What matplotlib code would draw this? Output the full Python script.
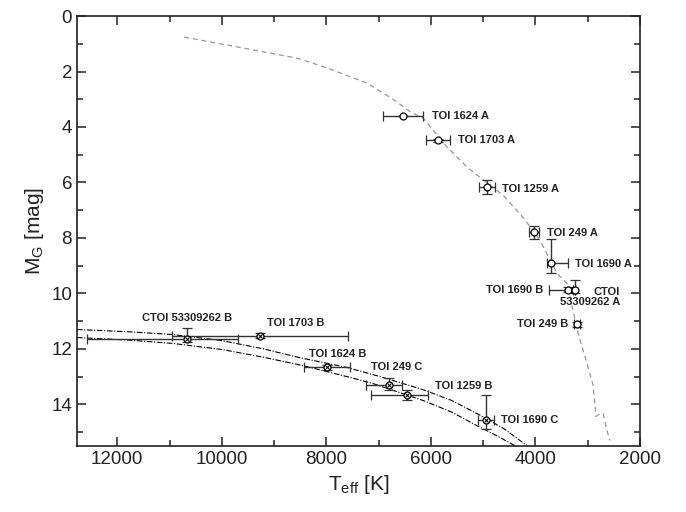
import numpy as np
import matplotlib
matplotlib.use("Agg")
import matplotlib.pyplot as plt
from matplotlib.ticker import MultipleLocator

plt.rcParams['font.family'] = ['Liberation Sans', 'DejaVu Sans']
plt.rcParams['mathtext.fontset'] = 'custom'
plt.rcParams['mathtext.rm'] = 'Liberation Sans'
plt.rcParams['mathtext.it'] = 'Liberation Sans:italic'

# primaries (open circles)
prim_names = ["TOI 1624 A", "TOI 1703 A", "TOI 1259 A", "TOI 249 A", "TOI 1690 A",
              "TOI 1690 B", "CTOI\n53309262 A", "TOI 249 B"]
prim_teff = [6530, 5860, 4925, 4030, 3700, 3377, 3243, 3205]
prim_mg = [3.61, 4.48, 6.17, 7.80, 8.92, 9.86, 9.89, 11.12]
prim_teff_lo = [380, 230, 160, 100, 325, 96, 0, 60]     # towards cooler
prim_teff_hi = [380, 230, 160, 100, 75, 363, 0, 60]     # towards hotter
prim_mg_lo = [0.0, 0.05, 0.25, 0.22, 0.87, 0.1, 0.36, 0.1]  # brighter side
prim_mg_hi = [0.0, 0.05, 0.25, 0.22, 0.36, 0.1, 0.08, 0.1]

# white dwarf companions
wd_names = ["CTOI 53309262 B", "TOI 1703 B", "TOI 1624 B", "TOI 249 C", "TOI 1259 B", "TOI 1690 C"]
wd_teff = [10660, 9266, 7985, 6800, 6455, 4945]
wd_mg = [11.66, 11.52, 12.67, 13.29, 13.65, 14.55]
wd_teff_lo = [975, 1680, 440, 250, 400, 160]
wd_teff_hi = [1910, 1680, 440, 440, 690, 160]
wd_mg_lo = [0.40, 0.08, 0.08, 0.25, 0.18, 0.90]
wd_mg_hi = [0.10, 0.08, 0.08, 0.20, 0.18, 0.33]

# label anchors
prim_lab_x = [5977, 5480, 4639, 3778, 3243, 3855, 2382, 3377]
prim_lab_y = [3.61, 4.48, 6.25, 7.83, 8.95, 9.89, 10.13, 11.12]
prim_lab_ha = ["left", "left", "left", "left", "left", "right", "right", "right"]
wd_lab_x = [10662, 8587, 8329, 7143, 5920, 4658]
wd_lab_y = [10.87, 11.05, 12.18, 12.64, 13.32, 14.55]
wd_lab_ha = ["center", "center", "left", "left", "left", "left"]

# main sequence (gray dashed)
ms_teff = [10719, 9600, 8558, 7985, 7220, 6723, 6398, 6149, 5690, 5308, 4620, 4237, 3912,
           3587, 3396, 3185, 3013, 2899, 2841, 2765, 2707, 2593, 2574]
ms_mg = [0.76, 1.15, 1.52, 1.87, 2.42, 3.0, 3.45, 3.68, 4.72, 5.45, 6.46, 7.26, 8.09,
         9.28, 9.64, 11.44, 12.53, 13.3, 14.44, 14.33, 14.33, 15.23, 15.3]

# white dwarf cooling tracks (dash-dot)
wd1_teff = [12770, 11800, 10948, 10000, 9200, 8500, 7602, 6971, 6149, 5600, 5117, 4600, 4161]
wd1_mg = [11.30, 11.38, 11.48, 11.70, 12.00, 12.32, 12.67, 13.00, 13.47, 13.86, 14.33, 14.88, 15.49]
wd2_teff = [12770, 11800, 10948, 10000, 9200, 8500, 7602, 7105, 6149, 5600, 5117, 4750, 4390]
wd2_mg = [11.59, 11.68, 11.80, 12.02, 12.30, 12.58, 13.00, 13.25, 13.86, 14.28, 14.77, 15.12, 15.49]

fig = plt.figure(figsize=(6.86, 5.12), dpi=100)
ax = fig.add_axes([0.1122, 0.1289, 0.8208, 0.8398])

ax.plot(ms_teff, ms_mg, color="#999999", lw=0.9, ls=(0, (4, 3)))
ax.plot(wd1_teff, wd1_mg, color="black", lw=0.8, ls=(0, (5, 1.5, 1, 1.5)))
ax.plot(wd2_teff, wd2_mg, color="black", lw=0.8, ls=(0, (5, 1.5, 1, 1.5)))

ax.errorbar(prim_teff, prim_mg, xerr=[prim_teff_lo, prim_teff_hi], yerr=[prim_mg_lo, prim_mg_hi],
            fmt='o', ms=5, mfc='white', mec='black', mew=0.9, ecolor='#333333', elinewidth=1,
            capsize=3.5, capthick=1, zorder=3)
ax.errorbar(wd_teff, wd_mg, xerr=[wd_teff_lo, wd_teff_hi], yerr=[wd_mg_lo, wd_mg_hi],
            fmt='o', ms=5, mfc='white', mec='black', mew=0.9, ecolor='#333333', elinewidth=1,
            capsize=3.5, capthick=1, zorder=3)
ax.plot(wd_teff, wd_mg, 'x', ms=3, mec='black', mew=0.8, zorder=4)

for name, x, y, ha in zip(prim_names, prim_lab_x, prim_lab_y, prim_lab_ha):
    ax.text(x, y, name, ha=ha, va='center', fontsize=8, fontweight='bold', color='#222222',
            multialignment='right', linespacing=1.1)
for name, x, y, ha in zip(wd_names, wd_lab_x, wd_lab_y, wd_lab_ha):
    ax.text(x, y, name, ha=ha, va='center', fontsize=8, fontweight='bold', color='#222222')

ax.set_xlim(12770, 2000)
ax.set_ylim(15.5, 0)
ax.xaxis.set_major_locator(MultipleLocator(2000))
ax.xaxis.set_minor_locator(MultipleLocator(1000))
ax.yaxis.set_major_locator(MultipleLocator(2))
ax.yaxis.set_minor_locator(MultipleLocator(1))
ax.tick_params(which='both', direction='in', top=True, right=True, width=1.1, labelsize=13.5,
               color='#222222', labelcolor='#222222')
ax.tick_params(which='major', length=6.5)
ax.tick_params(which='minor', length=4.3)
for s in ax.spines.values():
    s.set_linewidth(1.2)
    s.set_color('#222222')

ax.set_xlabel(r"T$_\mathrm{eff}$ [K]", fontsize=15, color='#222222')
ax.set_ylabel(r"M$_\mathrm{G}$ [mag]", fontsize=15, color='#222222')

fig.savefig("out.png", dpi=100)
